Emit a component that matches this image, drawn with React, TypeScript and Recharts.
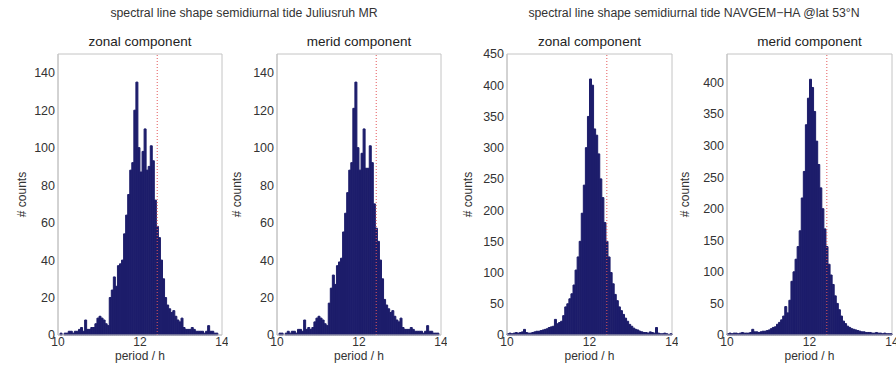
import React from 'react';
import { BarChart, Bar, XAxis, YAxis, ReferenceLine, ReferenceArea } from 'recharts';

// bin centres of the period histogram, 0.05 h wide
const periodBins = [
  10.025, 10.075, 10.125, 10.175, 10.225, 10.275, 10.325, 10.375, 10.425, 10.475,
  10.525, 10.575, 10.625, 10.675, 10.725, 10.775, 10.825, 10.875, 10.925, 10.975,
  11.025, 11.075, 11.125, 11.175, 11.225, 11.275, 11.325, 11.375, 11.425, 11.475,
  11.525, 11.575, 11.625, 11.675, 11.725, 11.775, 11.825, 11.875, 11.925, 11.975,
  12.025, 12.075, 12.125, 12.175, 12.225, 12.275, 12.325, 12.375, 12.425, 12.475,
  12.525, 12.575, 12.625, 12.675, 12.725, 12.775, 12.825, 12.875, 12.925, 12.975,
  13.025, 13.075, 13.125, 13.175, 13.225, 13.275, 13.325, 13.375, 13.425, 13.475,
  13.525, 13.575, 13.625, 13.675, 13.725, 13.775, 13.825, 13.875, 13.925, 13.975,
];

// Juliusruh MR
const zonalJuliusruh = [
  0, 1, 0, 1, 1, 2, 2, 1, 2, 2,
  3, 4, 2, 8, 3, 3, 4, 4, 6, 9,
  10, 9, 8, 6, 5, 20, 24, 31, 26, 37,
  38, 40, 54, 64, 75, 88, 92, 120, 135, 100,
  87, 98, 110, 88, 90, 101, 93, 72, 58, 52,
  40, 30, 20, 16, 14, 12, 13, 10, 8, 7,
  9, 4, 3, 3, 3, 4, 3, 2, 2, 2,
  2, 1, 2, 5, 2, 2, 1, 1, 0, 0,
];
const meridJuliusruh = [
  0, 1, 1, 0, 1, 2, 1, 2, 2, 1,
  3, 3, 2, 8, 3, 4, 3, 4, 7, 9,
  10, 9, 8, 6, 5, 17, 25, 32, 27, 37,
  39, 41, 55, 65, 76, 88, 92, 121, 135, 100,
  88, 97, 110, 89, 89, 101, 92, 70, 57, 50,
  40, 30, 19, 16, 14, 12, 13, 10, 8, 7,
  9, 4, 3, 3, 3, 4, 3, 2, 2, 2,
  2, 1, 2, 5, 2, 2, 1, 1, 1, 0,
];

// NAVGEM-HA @ 53N
const zonalNavgem = [
  2, 3, 2, 3, 4, 3, 4, 5, 9, 4,
  3, 3, 4, 5, 6, 6, 7, 8, 9, 10,
  12, 13, 14, 25, 18, 20, 22, 31, 45, 50,
  58, 66, 80, 104, 125, 150, 195, 240, 300, 350,
  410, 400, 330, 320, 290, 250, 220, 180, 150, 125,
  100, 82, 65, 55, 45, 39, 33, 27, 22, 17,
  14, 11, 9, 8, 6, 5, 4, 4, 3, 5,
  4, 3, 12, 3, 2, 2, 3, 2, 1, 2,
];
const meridNavgem = [
  2, 3, 2, 3, 3, 2, 3, 4, 3, 3,
  3, 4, 9, 5, 5, 4, 5, 6, 6, 7,
  8, 10, 12, 13, 17, 20, 24, 30, 45, 35,
  55, 85, 100, 120, 140, 165, 217, 259, 333, 375,
  405, 392, 354, 307, 270, 233, 200, 168, 140, 112,
  95, 80, 62, 50, 40, 30, 22, 18, 14, 12,
  10, 9, 8, 7, 6, 5, 5, 4, 4, 4,
  3, 3, 4, 3, 3, 2, 3, 2, 2, 2,
];

const mrTicks = [0, 20, 40, 60, 80, 100, 120, 140];
const navgemZonalTicks = [0, 50, 100, 150, 200, 250, 300, 350, 400, 450];
const navgemMeridTicks = [0, 50, 100, 150, 200, 250, 300, 350, 400];
const periodTicks = [10, 12, 14];
const m2Period = 12.42;

const FONT = '"Liberation Sans", Arial, Helvetica, sans-serif';
const BAR = '#1d1d6b';
const AXIS = '#c4c4c4';
const TEXT = '#333';

interface PanelProps {
  plotLeft: number;
  plotWidth: number;
  counts: number[];
  yMax: number;
  yTicks: number[];
  labelOffset: number;
  title: string;
}

const Panel: React.FC<PanelProps> = ({ plotLeft, plotWidth, counts, yMax, yTicks, labelOffset, title }) => {
  const data = periodBins.map((p, i) => ({ period: p, count: counts[i] }));
  return (
    <div style={{ position: 'absolute', left: plotLeft - 50, top: 0 }}>
      <div style={{ position: 'absolute', left: 50, top: 34, width: plotWidth, textAlign: 'center', fontSize: 13.5, color: '#222', lineHeight: '16px' }}>
        {title}
      </div>
      <BarChart
        width={plotWidth + 56}
        height={373}
        data={data}
        margin={{ top: 54, right: 6, bottom: 8, left: 0 }}
        barCategoryGap={0}
        barGap={0}
      >
        <XAxis xAxisId="bins" dataKey="period" type="category" hide height={0} />
        <XAxis
          xAxisId="period"
          dataKey="period"
          type="number"
          domain={[10, 14]}
          ticks={periodTicks}
          interval={0}
          allowDataOverflow
          height={30}
          tickSize={0}
          tickMargin={2}
          stroke={AXIS}
          tick={{ fill: TEXT, fontSize: 12 }}
          label={{ value: 'period / h', position: 'insideBottom', offset: 5, fill: TEXT, fontSize: 12 }}
        />
        <YAxis
          domain={[0, yMax]}
          ticks={yTicks}
          interval={0}
          width={50}
          tickSize={0}
          tickMargin={3}
          stroke={AXIS}
          tick={{ fill: TEXT, fontSize: 12.5 }}
          label={{ value: '# counts', angle: -90, position: 'insideLeft', offset: labelOffset, fill: TEXT, fontSize: 12, style: { textAnchor: 'middle' } }}
        />
        <ReferenceArea xAxisId="period" x1={10} x2={14} y1={0} y2={yMax} fill="none" stroke={AXIS} />
        <ReferenceLine xAxisId="period" x={m2Period} stroke="#e4585a" strokeDasharray="1 2" />
        <Bar xAxisId="bins" dataKey="count" fill={BAR} stroke={BAR} strokeWidth={1} isAnimationActive={false} />
      </BarChart>
    </div>
  );
};

export default function App() {
  return (
    <div style={{ position: 'absolute', left: 0, top: 0, width: 896, height: 373, background: '#fff', fontFamily: FONT, overflow: 'hidden' }}>
      <div style={{ position: 'absolute', left: 44, top: 5, width: 400, textAlign: 'center', fontSize: 12.3, color: TEXT, lineHeight: '16px' }}>
        spectral line shape semidiurnal tide Juliusruh MR
      </div>
      <div style={{ position: 'absolute', left: 494, top: 5, width: 400, textAlign: 'center', fontSize: 12.3, color: TEXT, lineHeight: '16px' }}>
        spectral line shape semidiurnal tide NAVGEM−HA @lat 53°N
      </div>
      <Panel plotLeft={58} plotWidth={164} counts={zonalJuliusruh} yMax={150} yTicks={mrTicks} labelOffset={14} title="zonal component" />
      <Panel plotLeft={277} plotWidth={164} counts={meridJuliusruh} yMax={150} yTicks={mrTicks} labelOffset={10} title="merid component" />
      <Panel plotLeft={507} plotWidth={165} counts={zonalNavgem} yMax={450} yTicks={navgemZonalTicks} labelOffset={11} title="zonal component" />
      <Panel plotLeft={727} plotWidth={165} counts={meridNavgem} yMax={445} yTicks={navgemMeridTicks} labelOffset={8} title="merid component" />
    </div>
  );
}
